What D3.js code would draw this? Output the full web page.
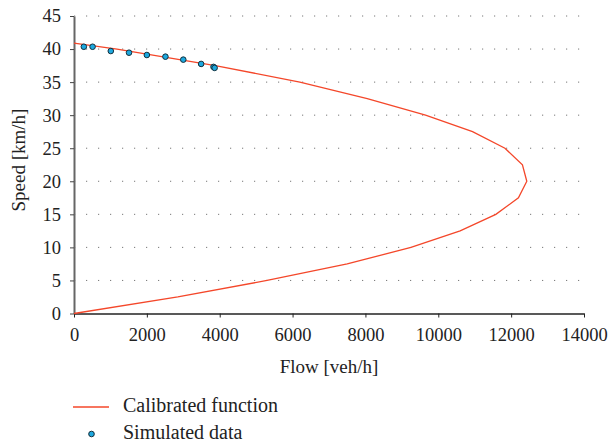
<!DOCTYPE html>
<html>
<head>
<meta charset="utf-8">
<script src="https://cdn.jsdelivr.net/npm/d3@7"></script>
<style>
  body { margin: 0; background: #fff; }
</style>
</head>
<body>
<div id="chart"></div>
<script>
// calibrated function
var curveFlow  = [0, 2850, 5300, 7500, 9250, 10600, 11580, 12200, 12430, 12310, 11830, 10940, 9650, 8050, 6200, 3880, 1180, 0];
var curveSpeed = [0, 2.5, 5, 7.5, 10, 12.5, 15, 17.5, 20, 22.5, 25, 27.5, 30, 32.5, 35, 37.5, 40, 40.9];

// simulated points
var simFlow  = [270, 510, 1010, 1510, 2000, 2510, 3000, 3490, 3830, 3860];
var simSpeed = [40.35, 40.35, 39.7, 39.45, 39.1, 38.85, 38.4, 37.75, 37.3, 37.15];

var xTicks = [0, 2000, 4000, 6000, 8000, 10000, 12000, 14000];
var yTicks = [0, 5, 10, 15, 20, 25, 30, 35, 40, 45];

var serif = '"Liberation Serif", "DejaVu Serif", "Times New Roman", serif';
var width = 608, height = 447;
var margin = {left: 74, right: 24, top: 16, bottom: 134};

var svg = d3.select('#chart').append('svg')
  .attr('width', width)
  .attr('height', height)
  .style('font-family', serif);

var x = d3.scaleLinear().domain([0, 14000]).range([margin.left, width - margin.right]);
var y = d3.scaleLinear().domain([0, 45]).range([height - margin.bottom + 0.5, margin.top]);

// dotted grid
svg.append('g')
  .selectAll('line')
  .data(yTicks.filter(function(d) { return d > 0; }))
  .enter().append('line')
  .attr('x1', x(0)).attr('x2', x(14000))
  .attr('y1', function(d) { return y(d); })
  .attr('y2', function(d) { return y(d); })
  .attr('stroke', '#777')
  .attr('stroke-width', 1)
  .attr('stroke-dasharray', '1.2 10.8')
  .attr('stroke-dashoffset', -12);

// x axis
var xAxis = svg.append('g')
  .attr('transform', 'translate(0,' + y(0) + ')')
  .call(d3.axisBottom(x).tickValues(xTicks).tickFormat(d3.format('d')).tickSize(4).tickPadding(10).tickSizeOuter(0));
xAxis.attr('font-family', serif);
xAxis.select('.domain').attr('stroke', '#222').attr('stroke-width', 1.5);
xAxis.selectAll('.tick line').attr('stroke', '#222');
xAxis.selectAll('text').style('font-size', '18.5px').style('font-family', serif).attr('fill', '#222');

// y axis
var yAxis = svg.append('g')
  .attr('transform', 'translate(' + x(0) + ',0)')
  .call(d3.axisLeft(y).tickValues(yTicks).tickSize(4).tickPadding(9).tickSizeOuter(0));
yAxis.attr('font-family', serif);
yAxis.select('.domain').attr('stroke', '#666').attr('stroke-width', 2);
yAxis.selectAll('.tick line').attr('stroke', '#444');
yAxis.selectAll('text').style('font-size', '18.5px').style('font-family', serif).attr('fill', '#222');

// axis titles
svg.append('text')
  .attr('x', (x(0) + x(14000)) / 2)
  .attr('y', 373)
  .attr('text-anchor', 'middle')
  .style('font-size', '19px')
  .style('font-family', serif)
  .attr('fill', '#222')
  .text('Flow [veh/h]');

svg.append('text')
  .attr('transform', 'translate(25,' + 160 + ') rotate(-90)')
  .attr('text-anchor', 'middle')
  .style('font-size', '19px')
  .style('font-family', serif)
  .attr('fill', '#222')
  .text('Speed [km/h]');

// calibrated curve
var line = d3.line()
  .x(function(d, i) { return x(curveFlow[i]); })
  .y(function(d, i) { return y(curveSpeed[i]); });

svg.append('path')
  .datum(curveFlow)
  .attr('d', line)
  .attr('fill', 'none')
  .attr('stroke', '#f4472a')
  .attr('stroke-width', 1.3);

// simulated points
svg.append('g')
  .selectAll('circle')
  .data(simFlow)
  .enter().append('circle')
  .attr('cx', function(d) { return x(d); })
  .attr('cy', function(d, i) { return y(simSpeed[i]); })
  .attr('r', 2.8)
  .attr('fill', '#1da8df')
  .attr('stroke', '#14303c')
  .attr('stroke-width', 1);

// legend
var legend = svg.append('g');
legend.append('line')
  .attr('x1', 73).attr('x2', 109)
  .attr('y1', 407).attr('y2', 407)
  .attr('stroke', '#f4472a')
  .attr('stroke-width', 1.3);
legend.append('text')
  .attr('x', 123).attr('y', 412)
  .style('font-size', '20px')
  .style('font-family', serif)
  .attr('fill', '#222')
  .text('Calibrated function');
legend.append('circle')
  .attr('cx', 91.5).attr('cy', 434)
  .attr('r', 2.8)
  .attr('fill', '#1da8df')
  .attr('stroke', '#14303c')
  .attr('stroke-width', 1);
legend.append('text')
  .attr('x', 123).attr('y', 439)
  .style('font-size', '20px')
  .style('font-family', serif)
  .attr('fill', '#222')
  .text('Simulated data');
</script>
</body>
</html>
